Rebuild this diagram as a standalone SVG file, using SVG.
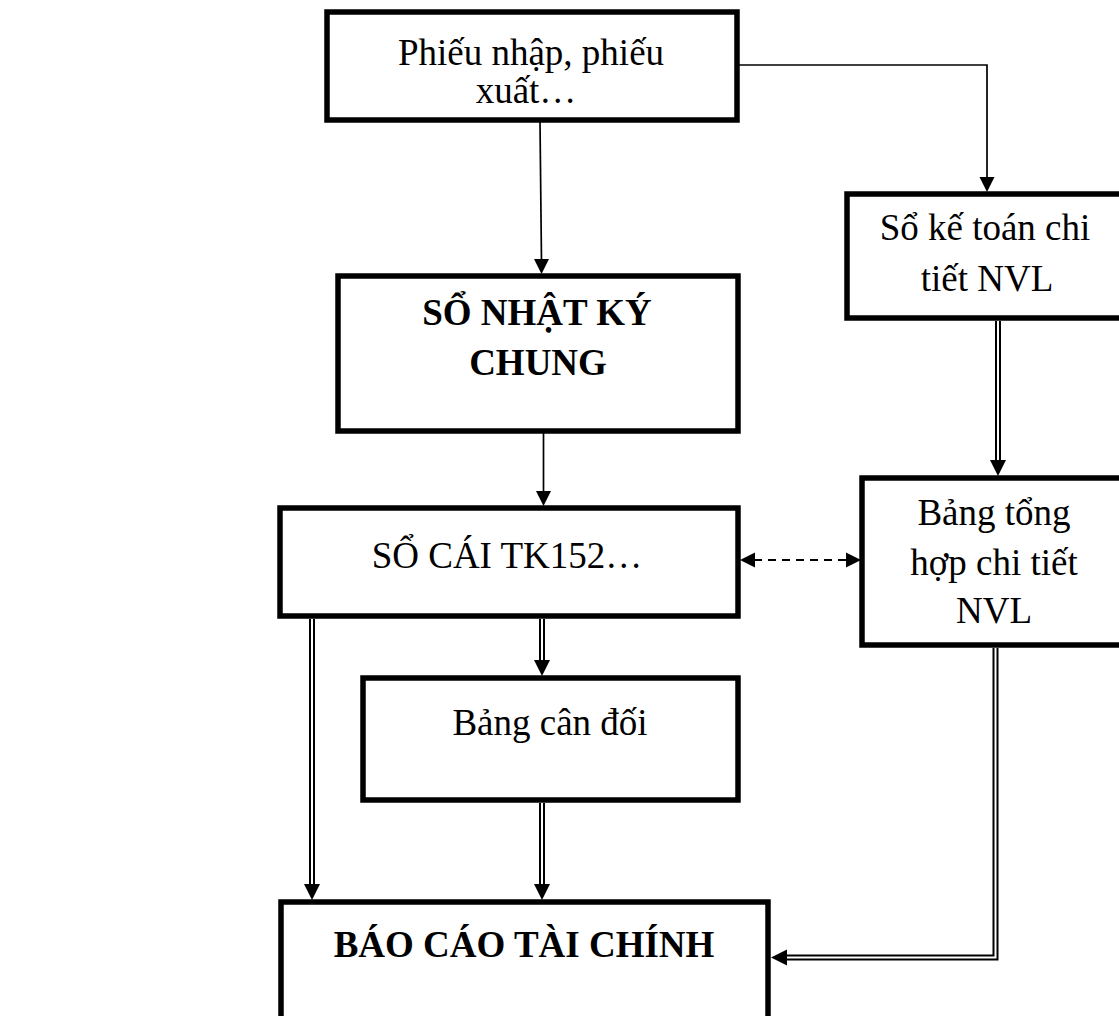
<svg xmlns="http://www.w3.org/2000/svg" xmlns:xlink="http://www.w3.org/1999/xlink" width="1119" height="1016" viewBox="0 0 1119 1016">
<style>
.box{fill:#fff;stroke:#000;stroke-width:5.5}
.t{font-family:"Liberation Serif","Times New Roman",serif;font-size:37px;fill:#000;text-anchor:middle}
.b{font-weight:bold}
.ln{fill:none;stroke:#000;stroke-width:1.7}
.dash{fill:none;stroke:#000;stroke-width:2.2;stroke-dasharray:8 6}
.dO{fill:none;stroke:#000;stroke-width:6}
.dI{fill:none;stroke:#fff;stroke-width:2}
</style>
<defs>
<path id="hd" d="M0,0 L-8,-16 L8,-16 Z" fill="#000"/>
<path id="hs" d="M0,0 L-7.5,-15 L7.5,-15 Z" fill="#000"/>
</defs>
<rect width="1119" height="1016" fill="#fff"/>
<g id="connectors">
<polyline class="ln" points="737,65 987,65 987,180"/>
<use xlink:href="#hs" transform="translate(987,192)"/>
<line class="ln" x1="540" y1="122" x2="541.5" y2="262"/>
<use xlink:href="#hs" transform="translate(541.5,274)"/>
<line class="ln" x1="543.5" y1="433" x2="543.5" y2="495"/>
<use xlink:href="#hs" transform="translate(543.5,506)"/>
<line class="dash" x1="754" y1="560" x2="847" y2="560"/>
<use xlink:href="#hs" transform="translate(740,560) rotate(90)"/>
<use xlink:href="#hs" transform="translate(861,560) rotate(-90)"/>
<line class="dO" x1="998" y1="321" x2="998" y2="462"/>
<line class="dI" x1="998" y1="321" x2="998" y2="462"/>
<use xlink:href="#hd" transform="translate(998,476)"/>
<line class="dO" x1="312" y1="619" x2="312" y2="886"/>
<line class="dI" x1="312" y1="619" x2="312" y2="886"/>
<use xlink:href="#hd" transform="translate(312,900)"/>
<line class="dO" x1="542" y1="619" x2="542" y2="662"/>
<line class="dI" x1="542" y1="619" x2="542" y2="662"/>
<use xlink:href="#hd" transform="translate(542,676)"/>
<line class="dO" x1="542" y1="803" x2="542" y2="886"/>
<line class="dI" x1="542" y1="803" x2="542" y2="886"/>
<use xlink:href="#hd" transform="translate(542,900)"/>
<polyline class="dO" points="995.5,648 995.5,957.5 786,957.5"/>
<polyline class="dI" points="995.5,648 995.5,957.5 786,957.5"/>
<use xlink:href="#hd" transform="translate(771,957.5) rotate(90)"/>
</g>
<g id="node-phieu">
<rect class="box" x="327" y="12" width="410" height="108"/>
<text class="t" x="531" y="65">Phiếu nhập, phiếu</text>
<text class="t" x="526" y="103">xuất…</text>
</g>
<g id="node-sokt">
<rect class="box" x="847" y="194" width="276" height="124"/>
<text class="t" x="985" y="240">Sổ kế toán chi</text>
<text class="t" x="987" y="291">tiết NVL</text>
</g>
<g id="node-snkc">
<rect class="box" x="338" y="276" width="400" height="155"/>
<text class="t b" x="537" y="325">SỔ NHẬT KÝ</text>
<text class="t b" x="538" y="375">CHUNG</text>
</g>
<g id="node-socai">
<rect class="box" x="280" y="508" width="458" height="108"/>
<text class="t" x="507" y="568">SỔ CÁI TK152…</text>
</g>
<g id="node-bth">
<rect class="box" x="862" y="478" width="264" height="167"/>
<text class="t" x="994" y="525">Bảng tổng</text>
<text class="t" x="994" y="575">hợp chi tiết</text>
<text class="t" x="994" y="623">NVL</text>
</g>
<g id="node-bcd">
<rect class="box" x="363" y="678" width="375" height="122"/>
<text class="t" x="550" y="735">Bảng cân đối</text>
</g>
<g id="node-bctc">
<rect class="box" x="281" y="902" width="487" height="130"/>
<text class="t b" x="524" y="957">BÁO CÁO TÀI CHÍNH</text>
</g>
</svg>
